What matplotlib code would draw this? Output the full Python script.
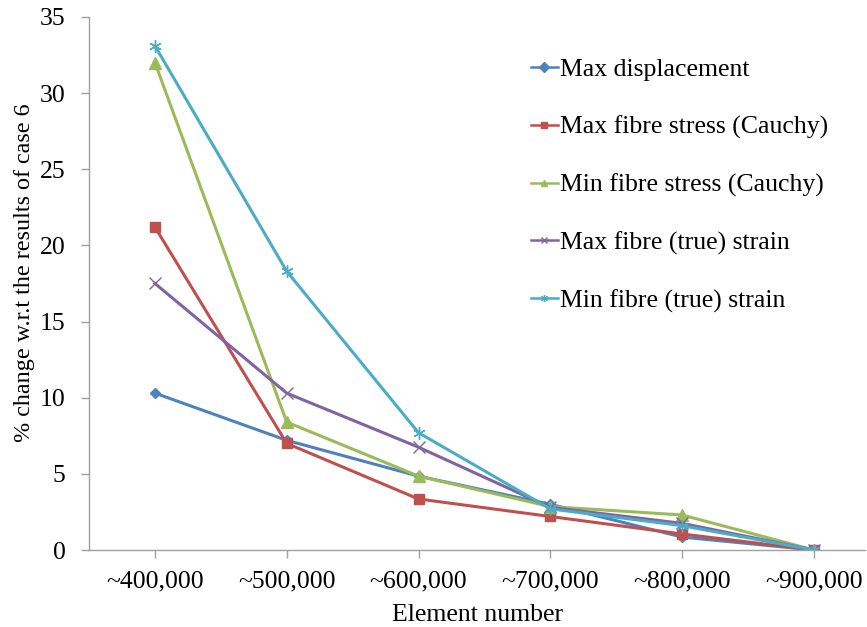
import matplotlib
matplotlib.use("Agg")
import matplotlib.pyplot as plt

categories = ["~400,000", "~500,000", "~600,000", "~700,000", "~800,000", "~900,000"]
max_displacement = [10.3, 7.2, 4.85, 3.0, 0.85, 0.0]
max_fibre_stress = [21.2, 7.0, 3.35, 2.2, 1.05, 0.0]
min_fibre_stress = [32.0, 8.4, 4.85, 2.85, 2.3, 0.0]
max_fibre_strain = [17.5, 10.3, 6.75, 2.8, 1.75, 0.0]
min_fibre_strain = [33.1, 18.3, 7.7, 2.7, 1.6, 0.0]
series_labels = ["Max displacement", "Max fibre stress (Cauchy)",
                 "Min fibre stress (Cauchy)", "Max fibre (true) strain",
                 "Min fibre (true) strain"]
y_ticks = [0, 5, 10, 15, 20, 25, 30, 35]

plt.rcParams['font.family'] = ['Liberation Serif', 'DejaVu Serif']
FS = 18.5

fig = plt.figure(figsize=(8.67, 6.27), dpi=100)
ax = fig.add_axes([0.1027, 0.1228, 0.8953, 0.8502])

x = list(range(len(categories)))
styles = [
    (max_displacement, "#4F81BD", dict(marker="D", markersize=5)),
    (max_fibre_stress, "#C0504D", dict(marker="s", markersize=7)),
    (min_fibre_stress, "#9BBB59", dict(marker="^", markersize=8)),
    (max_fibre_strain, "#8064A2", dict(marker="x", markersize=8, markeredgewidth=1.0)),
    (min_fibre_strain, "#4BACC6", dict(marker=(6, 2, 0), markersize=9, markeredgewidth=1.0)),
]
for (vals, color, mk), label in zip(styles, series_labels):
    ax.plot(x, vals, color=color, linewidth=2.2, label=label,
            markerfacecolor=color, markeredgecolor=color, **mk)

ax.set_xlim(-0.5, 5.39)
ax.set_ylim(0, 35)
ax.set_xticks(x)
ax.set_xticklabels(categories, fontsize=FS)
ax.set_yticks(y_ticks)
ax.set_yticklabels([str(v) for v in y_ticks], fontsize=FS)
ax.tick_params(axis='both', direction='out', length=6, color='#A0A0A0', width=1)
ax.tick_params(axis='x', pad=9)
ax.tick_params(axis='y', pad=11)

for side in ['top', 'right']:
    ax.spines[side].set_visible(False)
for side in ['left', 'bottom']:
    ax.spines[side].set_color('#A0A0A0')
    ax.spines[side].set_linewidth(1)

ax.set_xlabel("Element number", fontsize=FS, labelpad=8)
ax.set_ylabel("% change w.r.t the results of case 6", fontsize=17.4)
ax.yaxis.set_label_coords(-0.07, 0.52)

leg = fig.legend(loc='upper left', bbox_to_anchor=(0.612, 0.907), frameon=False,
                 fontsize=FS, handlelength=1.05, handletextpad=0.08,
                 labelspacing=1.34, borderaxespad=0, borderpad=0)
for h in leg.legend_handles:
    h.set_markersize(5)
    h.set_linewidth(1.8)

fig.savefig("out.png", dpi=100)
